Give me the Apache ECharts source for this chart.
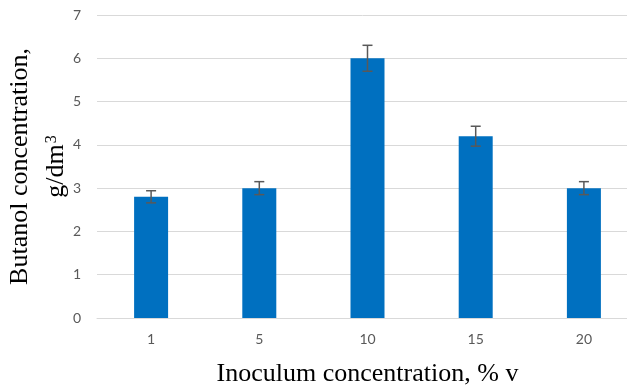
<!DOCTYPE html>
<html>
<head>
	<meta charset="utf-8">
	<title>Butanol concentration</title>
	<script src="https://cdn.jsdelivr.net/npm/echarts@6/dist/echarts.min.js"></script>
	<style type="text/css">
		* { margin: 0; padding: 0; }
		body { background: #fff; }
		#main { width: 627px; height: 387px; }
	</style>
</head>
<body>
<div id="main"></div>
<script type="text/javascript">
    // data
    var categories = ['1', '5', '10', '15', '20'];
    var butanol = [2.8, 3.0, 6.0, 4.2, 3.0];
    var errors = [0.14, 0.15, 0.3, 0.23, 0.15];
    var yTicks = [0, 1, 2, 3, 4, 5, 6, 7];

    var errData = [];
    for (var i = 0; i < butanol.length; i++) {
        errData.push([i, butanol[i] - errors[i], butanol[i] + errors[i]]);
    }

    var myChart = echarts.init(document.getElementById('main'));
    var labelFont = 'Lato';
    var option = {
        animation: false,
        grid: {
            left: 97,
            top: 15,
            width: 541,
            height: 303,
            containLabel: false,
            outerBoundsMode: 'none'
        },
        xAxis: {
            type: 'category',
            data: categories,
            axisLine: { show: true, lineStyle: { color: '#D9D9D9', width: 1 } },
            axisTick: { show: false },
            axisLabel: { color: '#595959', fontSize: 14, fontFamily: labelFont, margin: 14 },
            name: 'Inoculum concentration, % v',
            nameLocation: 'middle',
            nameGap: 43,
            nameMoveOverlap: false,
            nameTextStyle: { color: '#000', fontSize: 26, fontFamily: 'Liberation Serif' }
        },
        yAxis: {
            type: 'value',
            min: yTicks[0],
            max: yTicks[yTicks.length - 1],
            interval: 1,
            axisLine: { show: false },
            axisTick: { show: false },
            splitLine: { lineStyle: { color: '#D9D9D9', width: 1 } },
            axisLabel: { color: '#595959', fontSize: 14, fontFamily: labelFont, margin: 16 },
            name: 'Butanol concentration,\ng/dm{sup|3}',
            nameLocation: 'middle',
            nameRotate: 90,
            nameGap: 23,
            nameMoveOverlap: false,
            nameTextStyle: {
                color: '#000', fontSize: 26, fontFamily: 'Liberation Serif', lineHeight: 36, align: 'center',
                rich: {
                    sup: { color: '#000', fontSize: 16, fontFamily: 'Liberation Serif', verticalAlign: 'top', lineHeight: 36, padding: [6, 0, 0, 1] }
                }
            }
        },
        series: [
            {
                type: 'bar',
                data: butanol,
                barWidth: 34,
                itemStyle: { color: '#0070C0' }
            },
            {
                type: 'custom',
                data: errData,
                z: 10,
                renderItem: function (params, api) {
                    var lo = api.coord([api.value(0), api.value(1)]);
                    var hi = api.coord([api.value(0), api.value(2)]);
                    var x = lo[0];
                    var w = 5;
                    var st = { stroke: '#595959', lineWidth: 1.5 };
                    return {
                        type: 'group',
                        children: [
                            { type: 'line', shape: { x1: x, y1: lo[1], x2: x, y2: hi[1] }, style: st },
                            { type: 'line', shape: { x1: x - w, y1: lo[1], x2: x + w, y2: lo[1] }, style: st },
                            { type: 'line', shape: { x1: x - w, y1: hi[1], x2: x + w, y2: hi[1] }, style: st }
                        ]
                    };
                }
            }
        ]
    };
    myChart.setOption(option);
</script>
</body>
</html>
